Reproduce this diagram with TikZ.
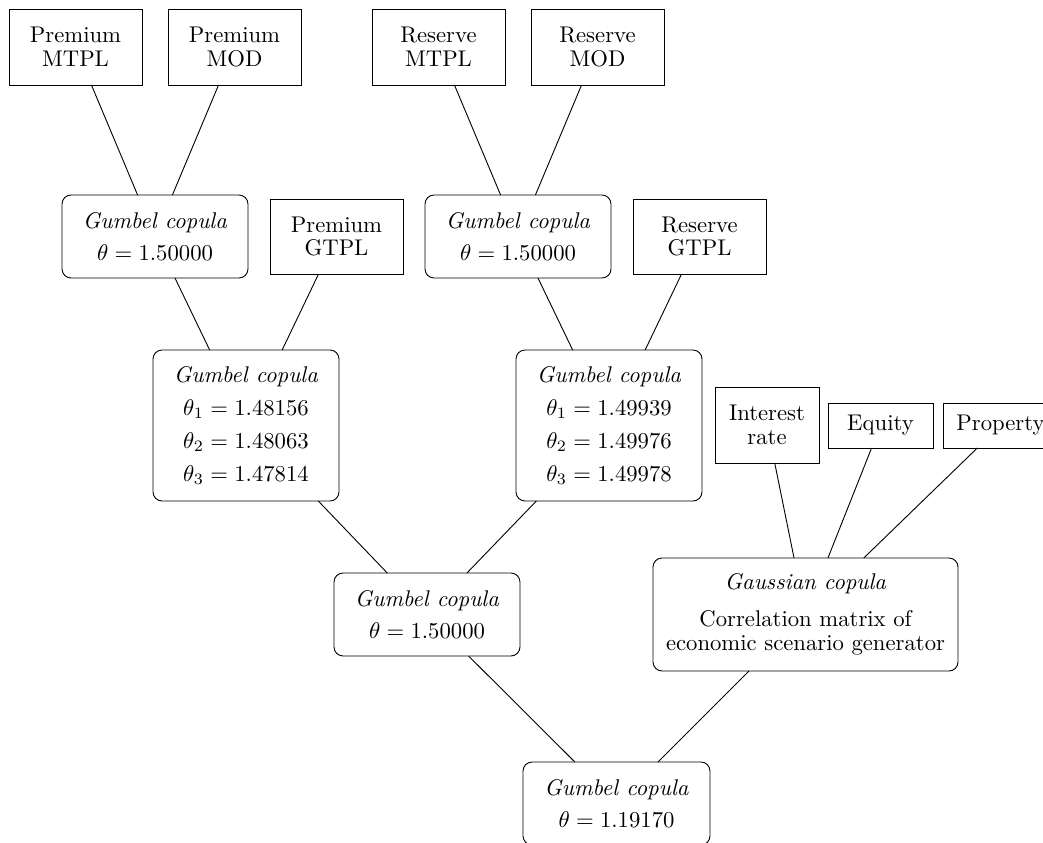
\documentclass[tikz,border=0pt]{standalone}
\begin{document}
\begin{tikzpicture}[x=0.4405pt,y=-0.4405pt,
  box/.style={draw, rectangle, font=\fontsize{10}{10.5}\selectfont, align=center, inner sep=0pt, outer sep=0pt},
  leafbox/.style={box, minimum width=58.59pt, minimum height=33.48pt},
  esgbox/.style={box, minimum height=19.82pt},
  copbox/.style={box, rounded corners=4pt, minimum width=81.93pt},
  link/.style={draw, line width=0.4pt}]
\clip (0,0) rectangle (1043,842);
% top leaves
\node[leafbox] (pm) at (75.5,47) {Premium\\MTPL};
\node[leafbox] (pd) at (234.5,47) {Premium\\MOD};
\node[leafbox] (rm) at (438.5,47) {Reserve\\MTPL};
\node[leafbox] (rd) at (597.5,47) {Reserve\\MOD};
% second level
\node[copbox, minimum height=36.56pt] (g1) at (155,236.5) {\textit{Gumbel copula}\\[4pt]$\theta = 1.50000$};
\node[leafbox, minimum height=33.04pt] (pg) at (336.5,236.5) {Premium\\GTPL};
\node[copbox, minimum height=36.56pt] (r1) at (518,236.5) {\textit{Gumbel copula}\\[4pt]$\theta = 1.50000$};
\node[leafbox, minimum height=33.04pt] (rg) at (699.5,236.5) {Reserve\\GTPL};
% third level
\node[copbox, minimum height=66.52pt] (g2) at (246,425.5) {\textit{Gumbel copula}\\[4pt]$\theta_1 = 1.48156$\\[4pt]$\theta_2 = 1.48063$\\[4pt]$\theta_3 = 1.47814$};
\node[copbox, minimum height=66.52pt] (r2) at (609,425.5) {\textit{Gumbel copula}\\[4pt]$\theta_1 = 1.49939$\\[4pt]$\theta_2 = 1.49976$\\[4pt]$\theta_3 = 1.49978$};
% ESG leaves
\node[box, minimum width=45.81pt, minimum height=33.48pt] (ir) at (767,425) {Interest\\rate};
\node[esgbox, minimum width=46.25pt] (eq) at (880.5,425.5) {Equity};
\node[esgbox, minimum width=50.66pt] (pr) at (1000.5,425.5) {Property};
% fourth level
\node[copbox, minimum height=36.56pt] (gm) at (427,614.5) {\textit{Gumbel copula}\\[4pt]$\theta = 1.50000$};
\node[box, rounded corners=4pt, minimum width=134.35pt, minimum height=49.78pt] (ga) at (805.5,614.5) {\textit{Gaussian copula}\\[5.8pt]Correlation matrix of\\economic scenario generator};
% root
\node[copbox, minimum width=82.37pt, minimum height=36.56pt] (gb) at (616.5,803.5) {\textit{Gumbel copula}\\[4pt]$\theta = 1.19170$};
% connectors
\path[link] (pm) -- (g1);
\path[link] (pd) -- (g1);
\path[link] (rm) -- (r1);
\path[link] (rd) -- (r1);
\path[link] (g1) -- (g2);
\path[link] (pg) -- (g2);
\path[link] (r1) -- (r2);
\path[link] (rg) -- (r2);
\path[link] (g2) -- (gm);
\path[link] (r2) -- (gm);
\path[link] (ir) -- (ga);
\path[link] (eq) -- (ga);
\path[link] (pr) -- (ga);
\path[link] (gm) -- (gb);
\path[link] (ga) -- (gb);
\end{tikzpicture}
\end{document}
